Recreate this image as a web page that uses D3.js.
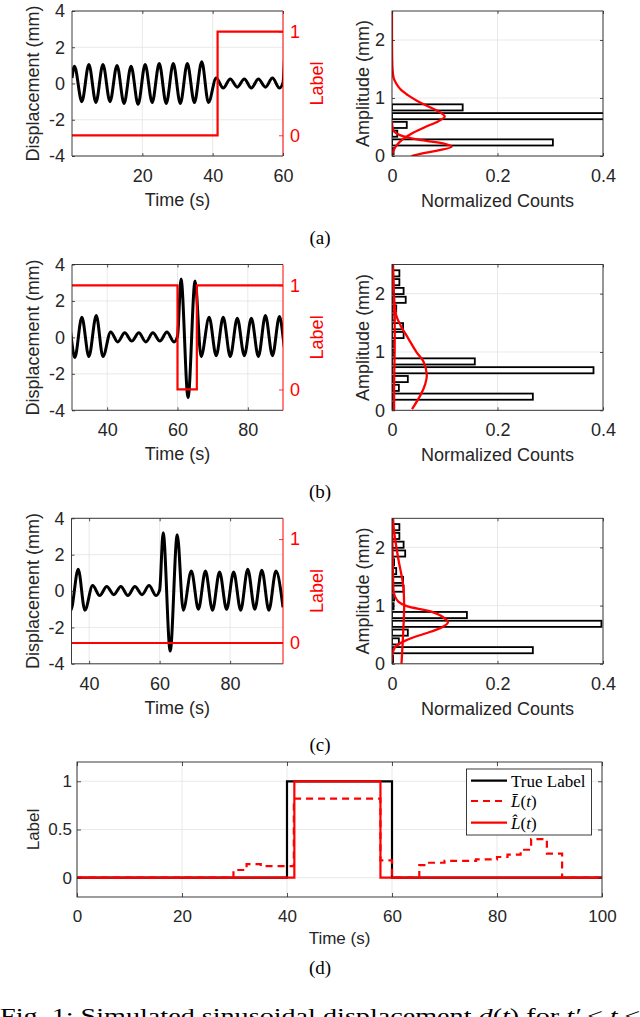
<!DOCTYPE html>
<html>
<head>
<meta charset="utf-8">
<script src="https://cdn.jsdelivr.net/npm/d3@7"></script>
<style>
body { margin: 0; background: #fff; }
svg { display: block; }
</style>
</head>
<body>
<div id="graphic"></div>
<script>
// ---------- data ----------
// displacement signal: peaks / troughs (s, mm)
var sigTime = [0, 0.7, 2.8, 4.8, 6.8, 8.8, 10.8, 12.8, 14.8, 16.8, 18.8, 20.8, 22.8, 24.8, 26.8, 28.8, 30.8, 32.8, 34.8, 36.9, 38.8,
               41, 43, 45, 47, 49, 51, 53, 55, 57, 59, 60, 61, 63, 65, 66.7,
               69, 71, 73, 75, 77, 79, 81, 83, 85, 87, 89, 91, 93, 95];
var sigDisp = [0.3, 0.95, -1.0, 1.05, -1.05, 1.05, -1.0, 1.0, -1.1, 0.95, -1.15, 1.05, -1.05, 1.1, -1.1, 1.1, -1.1, 1.1, -1.05, 1.2, -1.05,
               0.3, -0.25, 0.25, -0.2, 0.25, -0.25, 0.25, -0.2, 0.3, -0.25, 0.05, 3.2, -3.3, 3.1, -1.05,
               1.1, -1.0, 1.1, -1.05, 1.05, -1.0, 1.05, -1.05, 1.2, -1.0, 1.15, -1.05, 1.1, -0.9];

// red label steps in panels a-c
var labATime = [0, 41.4, 60];      var labAVal = [0, 1, 1];
var labBTime = [30, 60, 65.5, 90]; var labBVal = [1, 0, 1, 1];
var labCTime = [35, 95];           var labCVal = [0, 0];

// histograms: bin width and normalized counts per bin
var binWidth = 0.151;
var histA = [0.003, 0.305, 0.010, 0.028, 0.52, 0.134, 0, 0, 0, 0, 0, 0, 0, 0, 0, 0];
var histB = [0.002, 0.267, 0.013, 0.030, 0.382, 0.157, 0.004, 0.004, 0.022, 0.021, 0.005, 0.008, 0.026, 0.022, 0.014, 0.014];
var histC = [0.002, 0.267, 0.013, 0.030, 0.397, 0.142, 0.003, 0.004, 0.022, 0.021, 0.008, 0.004, 0.025, 0.022, 0.014, 0.014];

// red density curves (amplitude, count)
var kdeA1Amp = [0.0, 0.05, 0.10, 0.16, 0.21, 0.26, 0.31, 0.36, 0.42, 0.5, 0.6];
var kdeA1Cnt = [0.037, 0.06, 0.09, 0.113, 0.1, 0.065, 0.035, 0.015, 0.004, 0.001, 0];
var kdeA2Amp = [0, 0.1, 0.2, 0.3, 0.4, 0.5, 0.6, 0.68, 0.76, 0.85, 0.95, 1.05, 1.15, 1.25, 1.35, 1.5, 2.0, 2.5];
var kdeA2Cnt = [0, 0.003, 0.01, 0.022, 0.04, 0.063, 0.088, 0.1, 0.09, 0.07, 0.048, 0.03, 0.016, 0.008, 0.003, 0.001, 0, 0];
var kdeB1Amp = [0.02, 0.26, 0.45, 0.6, 0.83, 0.99, 1.23, 1.46, 1.63, 1.92, 2.2, 2.5];
var kdeB1Cnt = [0.038, 0.054, 0.063, 0.066, 0.06, 0.047, 0.031, 0.016, 0.008, 0.004, 0.003, 0.002];
var kdeB2Amp = [0, 0.5, 1.0, 1.5, 2.0, 2.5];
var kdeB2Cnt = [0.004, 0.004, 0.005, 0.005, 0.003, 0.001];
var kdeC1Amp = [0, 0.17, 0.29, 0.41, 0.55, 0.63, 0.71, 0.8, 0.9, 0.99, 1.07, 1.15, 1.25, 1.5, 2.0, 2.5];
var kdeC1Cnt = [0, 0.001, 0.006, 0.028, 0.073, 0.095, 0.106, 0.097, 0.073, 0.028, 0.012, 0.006, 0.003, 0.002, 0.001, 0.0];
var kdeC2Amp = [0, 0.5, 1.0, 1.36, 1.8, 2.27, 2.5];
var kdeC2Cnt = [0.018, 0.021, 0.023, 0.021, 0.012, 0.004, 0.002];

// panel d labels
var trueTime = [0, 40, 60, 100];   var trueVal = [0, 1, 0, 0];
var barTime = [0, 29.8, 32.3, 35, 41.3, 57.8, 60, 65.2, 66.8, 70, 76, 80, 82, 84.5, 86.5, 89.5, 92.4, 100];
var barVal  = [0, 0.08, 0.14, 0.12, 0.82, 0.18, 0, 0.13, 0.155, 0.175, 0.19, 0.215, 0.24, 0.29, 0.40, 0.25, 0, 0];
var hatTime = [0, 41.4, 57.8, 100]; var hatVal = [0, 1, 0, 0];

// ticks
var dispTicks = [-4, -2, 0, 2, 4];
var labelTicks = [0, 1];
var ampTicks = [0, 1, 2];
var countTicks = [0, 0.2, 0.4];
var dTimeTicks = [0, 20, 40, 60, 80, 100];
var dLabelTicks = [0, 0.5, 1];

// ---------- drawing ----------
var W = 640, H = 1017;
var RED = "#ff0000", INK = "#262626", GRID = "#e3e3e3";
var SANS = "'Liberation Sans', Arial, Helvetica, sans-serif";
var SERIF = "'Liberation Serif', 'Times New Roman', serif";

var svg = d3.select("#graphic").append("svg")
    .attr("width", W).attr("height", H)
    .style("font-family", SANS);

function zip(a, b) { return a.map(function(v, i) { return [v, b[i]]; }); }
var clipN = 0;

function addClip(b) {
    var id = "clip" + (clipN++);
    svg.append("clipPath").attr("id", id).append("rect")
        .attr("x", b.x0).attr("y", b.y0).attr("width", b.x1 - b.x0).attr("height", b.y1 - b.y0);
    return "url(#" + id + ")";
}

function styleAxis(g, size, color) {
    g.select(".domain").remove();
    g.selectAll("line").attr("stroke", color).attr("stroke-width", 0.8);
    g.selectAll("text").attr("fill", color).style("font-size", size + "px").style("font-family", SANS);
}

function grid(g, b, x, y, xt, yt) {
    g.append("g").selectAll("line").data(xt).enter().append("line")
        .attr("x1", function(d) { return x(d); }).attr("x2", function(d) { return x(d); })
        .attr("y1", b.y0).attr("y2", b.y1).attr("stroke", GRID).attr("stroke-width", 0.8);
    g.append("g").selectAll("line").data(yt).enter().append("line")
        .attr("y1", function(d) { return y(d); }).attr("y2", function(d) { return y(d); })
        .attr("x1", b.x0).attr("x2", b.x1).attr("stroke", GRID).attr("stroke-width", 0.8);
}

function fmt(d) { return String(d); }

// time series with red label on right axis
function timePanel(b, xDom, xTicks, labT, labV) {
    var g = svg.append("g");
    var x = d3.scaleLinear().domain(xDom).range([b.x0, b.x1]);
    var y = d3.scaleLinear().domain([-4, 4]).range([b.y1, b.y0]);
    var y2 = d3.scaleLinear().domain([-0.2, 1.2]).range([b.y1, b.y0]);
    grid(g, b, x, y, xTicks, dispTicks);
    var clip = addClip(b);

    var sig = zip(sigTime, sigDisp);
    g.append("path").datum(sig).attr("clip-path", clip)
        .attr("fill", "none").attr("stroke", "#000").attr("stroke-width", 3)
        .attr("stroke-linejoin", "round")
        .attr("d", d3.line().x(function(d) { return x(d[0]); }).y(function(d) { return y(d[1]); }).curve(d3.curveMonotoneX));

    g.append("path").datum(zip(labT, labV)).attr("clip-path", clip)
        .attr("fill", "none").attr("stroke", RED).attr("stroke-width", 2.2)
        .attr("d", d3.line().x(function(d) { return x(d[0]); }).y(function(d) { return y2(d[1]); }).curve(d3.curveStepAfter));

    // box
    g.append("path").attr("fill", "none").attr("stroke", INK).attr("stroke-width", 0.9)
        .attr("d", "M" + b.x1 + "," + b.y0 + "H" + b.x0 + "V" + b.y1 + "H" + b.x1);
    g.append("line").attr("x1", b.x1).attr("x2", b.x1).attr("y1", b.y0).attr("y2", b.y1)
        .attr("stroke", RED).attr("stroke-width", 1);

    g.append("g").attr("transform", "translate(0," + b.y1 + ")")
        .call(d3.axisBottom(x).tickValues(xTicks).tickSize(-3).tickPadding(13).tickFormat(fmt))
        .call(styleAxis, 18, INK);
    g.append("g").attr("transform", "translate(0," + b.y0 + ")")
        .call(d3.axisTop(x).tickValues(xTicks).tickSize(-3).tickFormat(""))
        .call(styleAxis, 18, INK);
    g.append("g").attr("transform", "translate(" + b.x0 + ",0)")
        .call(d3.axisLeft(y).tickValues(dispTicks).tickSize(-3).tickPadding(7).tickFormat(fmt))
        .call(styleAxis, 18, INK);
    g.append("g").attr("transform", "translate(" + b.x1 + ",0)")
        .call(d3.axisRight(y2).tickValues(labelTicks).tickSize(-4).tickPadding(7).tickFormat(fmt))
        .call(styleAxis, 18, RED);

    g.append("text").attr("x", (b.x0 + b.x1) / 2).attr("y", b.y1 + 50)
        .attr("text-anchor", "middle").style("font-size", "18px").attr("fill", INK).text("Time (s)");
    g.append("text").attr("transform", "translate(" + (b.x0 - 39) + "," + ((b.y0 + b.y1) / 2) + ") rotate(-90)")
        .attr("text-anchor", "middle").attr("dy", "0.35em").style("font-size", "18px").attr("fill", INK)
        .text("Displacement (mm)");
    g.append("text").attr("transform", "translate(" + (b.x1 + 34) + "," + ((b.y0 + b.y1) / 2) + ") rotate(-90)")
        .attr("text-anchor", "middle").attr("dy", "0.35em").style("font-size", "18px").attr("fill", RED)
        .text("Label");
}

// horizontal histogram with red density curves
function histPanel(b, counts, curves) {
    var g = svg.append("g");
    var x = d3.scaleLinear().domain([0, 0.4]).range([b.x0, b.x1]);
    var y = d3.scaleLinear().domain([0, 2.5]).range([b.y1, b.y0]);
    grid(g, b, x, y, countTicks, ampTicks);
    var clip = addClip(b);

    g.append("g").attr("clip-path", clip).selectAll("rect").data(counts).enter().append("rect")
        .attr("x", x(0))
        .attr("y", function(d, i) { return y((i + 0.9) * binWidth); })
        .attr("width", function(d) { return x(d) - x(0); })
        .attr("height", function(d, i) { return y(i * binWidth) - y((i + 0.8) * binWidth) - (y(0) - y(0.1 * binWidth)); })
        .attr("fill", "#fff").attr("stroke", "#000").attr("stroke-width", 1.8);

    curves.forEach(function(c) {
        g.append("path").datum(zip(c[0], c[1])).attr("clip-path", clip)
            .attr("fill", "none").attr("stroke", RED).attr("stroke-width", 2.3)
            .attr("d", d3.line().x(function(d) { return x(d[1]); }).y(function(d) { return y(d[0]); }).curve(d3.curveCatmullRom));
    });

    g.append("rect").attr("x", b.x0).attr("y", b.y0).attr("width", b.x1 - b.x0).attr("height", b.y1 - b.y0)
        .attr("fill", "none").attr("stroke", INK).attr("stroke-width", 0.9);

    g.append("g").attr("transform", "translate(0," + b.y1 + ")")
        .call(d3.axisBottom(x).tickValues(countTicks).tickSize(-3).tickPadding(13).tickFormat(fmt))
        .call(styleAxis, 18, INK);
    g.append("g").attr("transform", "translate(0," + b.y0 + ")")
        .call(d3.axisTop(x).tickValues(countTicks).tickSize(-3).tickFormat(""))
        .call(styleAxis, 18, INK);
    g.append("g").attr("transform", "translate(" + b.x0 + ",0)")
        .call(d3.axisLeft(y).tickValues(ampTicks).tickSize(-3).tickPadding(7).tickFormat(fmt))
        .call(styleAxis, 18, INK);
    g.append("g").attr("transform", "translate(" + b.x1 + ",0)")
        .call(d3.axisRight(y).tickValues(ampTicks).tickSize(-3).tickFormat(""))
        .call(styleAxis, 18, INK);

    g.append("text").attr("x", (b.x0 + b.x1) / 2).attr("y", b.y1 + 51)
        .attr("text-anchor", "middle").style("font-size", "18px").attr("fill", INK).text("Normalized Counts");
    g.append("text").attr("transform", "translate(" + (b.x0 - 29) + "," + ((b.y0 + b.y1) / 2) + ") rotate(-90)")
        .attr("text-anchor", "middle").attr("dy", "0.35em").style("font-size", "18px").attr("fill", INK)
        .text("Amplitude (mm)");
}

function subCaption(txt, cy) {
    svg.append("text").attr("x", 320).attr("y", cy + 6).attr("text-anchor", "middle")
        .style("font-family", SERIF).style("font-size", "19px").attr("fill", "#000").text(txt);
}

var tsA = {x0: 72, x1: 283, y0: 11, y1: 156};
var tsB = {x0: 72, x1: 283, y0: 264.5, y1: 410.3};
var tsC = {x0: 71.5, x1: 283, y0: 518.3, y1: 663.8};
var hA = {x0: 392, x1: 603, y0: 11, y1: 156};
var hB = {x0: 392, x1: 603, y0: 264.5, y1: 410.3};
var hC = {x0: 392, x1: 603, y0: 518.3, y1: 663.8};

timePanel(tsA, [0, 60], [20, 40, 60], labATime, labAVal);
histPanel(hA, histA, [[kdeA1Amp, kdeA1Cnt], [kdeA2Amp, kdeA2Cnt]]);
subCaption("(a)", 238);

timePanel(tsB, [30, 90], [40, 60, 80], labBTime, labBVal);
histPanel(hB, histB, [[kdeB1Amp, kdeB1Cnt], [kdeB2Amp, kdeB2Cnt]]);
subCaption("(b)", 492);

timePanel(tsC, [35, 95], [40, 60, 80], labCTime, labCVal);
histPanel(hC, histC, [[kdeC1Amp, kdeC1Cnt], [kdeC2Amp, kdeC2Cnt]]);
subCaption("(c)", 745);

// ---------- panel d ----------
(function() {
    var b = {x0: 77, x1: 602, y0: 762, y1: 897};
    var g = svg.append("g");
    var x = d3.scaleLinear().domain([0, 100]).range([b.x0, b.x1]);
    var y = d3.scaleLinear().domain([-0.2, 1.2]).range([b.y1, b.y0]);
    grid(g, b, x, y, dTimeTicks, dLabelTicks);
    var clip = addClip(b);
    var line = d3.line().x(function(d) { return x(d[0]); }).y(function(d) { return y(d[1]); }).curve(d3.curveStepAfter);

    g.append("path").datum(zip(trueTime, trueVal)).attr("clip-path", clip)
        .attr("fill", "none").attr("stroke", "#000").attr("stroke-width", 2.2).attr("d", line);
    g.append("path").datum(zip(barTime, barVal)).attr("clip-path", clip)
        .attr("fill", "none").attr("stroke", RED).attr("stroke-width", 2.2)
        .attr("stroke-dasharray", "7,5").attr("d", line);
    g.append("path").datum(zip(hatTime, hatVal)).attr("clip-path", clip)
        .attr("fill", "none").attr("stroke", RED).attr("stroke-width", 2.2).attr("d", line);

    g.append("rect").attr("x", b.x0).attr("y", b.y0).attr("width", b.x1 - b.x0).attr("height", b.y1 - b.y0)
        .attr("fill", "none").attr("stroke", INK).attr("stroke-width", 0.9);

    g.append("g").attr("transform", "translate(0," + b.y1 + ")")
        .call(d3.axisBottom(x).tickValues(dTimeTicks).tickSize(-4).tickPadding(13).tickFormat(fmt))
        .call(styleAxis, 17, INK);
    g.append("g").attr("transform", "translate(0," + b.y0 + ")")
        .call(d3.axisTop(x).tickValues(dTimeTicks).tickSize(-4).tickFormat(""))
        .call(styleAxis, 17, INK);
    g.append("g").attr("transform", "translate(" + b.x0 + ",0)")
        .call(d3.axisLeft(y).tickValues(dLabelTicks).tickSize(-4).tickPadding(5).tickFormat(fmt))
        .call(styleAxis, 17, INK);
    g.append("g").attr("transform", "translate(" + b.x1 + ",0)")
        .call(d3.axisRight(y).tickValues(dLabelTicks).tickSize(-4).tickFormat(""))
        .call(styleAxis, 17, INK);

    g.append("text").attr("x", (b.x0 + b.x1) / 2).attr("y", 944)
        .attr("text-anchor", "middle").style("font-size", "17px").attr("fill", INK).text("Time (s)");
    g.append("text").attr("transform", "translate(" + 33 + "," + ((b.y0 + b.y1) / 2) + ") rotate(-90)")
        .attr("text-anchor", "middle").attr("dy", "0.35em").style("font-size", "17px").attr("fill", INK)
        .text("Label");

    // legend
    var lg = g.append("g");
    lg.append("rect").attr("x", 466.5).attr("y", 769).attr("width", 125).attr("height", 66)
        .attr("fill", "#fff").attr("stroke", INK).attr("stroke-width", 0.9);
    var entries = [
        {y: 780.7, color: "#000", dash: null, parts: [["True Label", "normal"]]},
        {y: 801, color: RED, dash: "7,5", parts: [["L\u0304", "italic"], ["(", "normal"], ["t", "italic"], [")", "normal"]]},
        {y: 822.7, color: RED, dash: null, parts: [["L\u0302", "italic"], ["(", "normal"], ["t", "italic"], [")", "normal"]]}
    ];
    entries.forEach(function(e) {
        lg.append("line").attr("x1", 471).attr("x2", 507).attr("y1", e.y).attr("y2", e.y)
            .attr("stroke", e.color).attr("stroke-width", 2.2).attr("stroke-dasharray", e.dash);
        var t = lg.append("text").attr("x", 511).attr("y", e.y + 6)
            .style("font-family", SERIF).style("font-size", "17px").attr("fill", "#000");
        e.parts.forEach(function(p) { t.append("tspan").style("font-style", p[1]).text(p[0]); });
    });
})();
subCaption("(d)", 968);

// figure caption (cut off at the bottom of the page)
var cap = svg.append("text").attr("x", 0).attr("y", 1023)
    .style("font-family", SERIF).style("font-size", "21px").attr("fill", "#000")
    .attr("textLength", 640).attr("lengthAdjust", "spacingAndGlyphs");
[["Fig. 1: Simulated sinusoidal displacement ", "normal"], ["d", "italic"], ["(", "normal"], ["t", "italic"],
 [") for ", "normal"], ["t\u2032", "italic"], [" \u2264 ", "normal"], ["t", "italic"], [" \u2264", "normal"]]
    .forEach(function(p) { cap.append("tspan").style("font-style", p[1]).text(p[0]); });
</script>
</body>
</html>
